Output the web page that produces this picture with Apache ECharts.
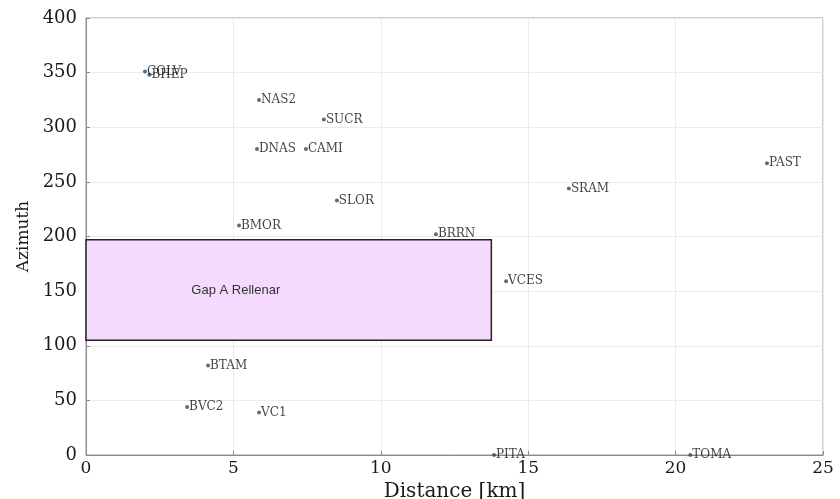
<!DOCTYPE html>
<html>
<head>
<meta charset="utf-8">
<script src="https://cdn.jsdelivr.net/npm/echarts@6/dist/echarts.min.js"></script>
<style>html,body{margin:0;padding:0;background:#fff;}#c{width:840px;height:499px;}</style>
</head>
<body>
<div id="c"></div>
<script>
const stations = ['COLV','BHEP','NAS2','SUCR','DNAS','CAMI','SLOR','BMOR','BRRN','SRAM','PAST','VCES','BTAM','BVC2','VC1','PITA','TOMA'];
const distances = [2.0, 2.15, 5.87, 8.07, 5.8, 7.46, 8.51, 5.19, 11.87, 16.38, 23.1, 14.25, 4.14, 3.43, 5.87, 13.84, 20.5];
const azimuths = [351, 348, 325, 307, 280, 280, 233, 210, 202, 244, 267, 159, 82, 44, 39, 0, 0];
const gapX = [0, 13.75];
const gapY = [105, 197];
const gapLabel = 'Gap A Rellenar';
const xTicks = [0, 5, 10, 15, 20, 25];
const yTicks = [0, 50, 100, 150, 200, 250, 300, 350, 400];

const chart = echarts.init(document.getElementById('c'));
const pts = stations.map((n, i) => ({ name: n, value: [distances[i], azimuths[i]] }));
const serif = 'DejaVu Serif';
chart.setOption({
  animation: false,
  backgroundColor: '#fff',
  grid: { left: 86, right: 17, top: 18, bottom: 44, outerBoundsMode: 'none', containLabel: false,
          show: true, borderColor: '#9a9a9a', borderWidth: 1 },
  xAxis: {
    type: 'value', min: xTicks[0], max: xTicks[xTicks.length - 1], interval: 5,
    name: 'Distance [km]', nameLocation: 'middle', nameGap: 21,
    nameTextStyle: { fontFamily: serif, fontSize: 20, color: '#1a1a1a' },
    axisLine: { show: true, lineStyle: { color: '#8a8a8a' } },
    axisTick: { show: true, inside: true, length: 4, lineStyle: { color: '#8a8a8a' } },
    axisLabel: { fontFamily: serif, fontSize: 17, color: '#1a1a1a', margin: 5 },
    splitLine: { show: true, lineStyle: { color: '#ebebeb' } }
  },
  yAxis: {
    type: 'value', min: yTicks[0], max: yTicks[yTicks.length - 1], interval: 50,
    name: 'Azimuth', nameLocation: 'middle', nameGap: 54,
    nameTextStyle: { fontFamily: serif, fontSize: 17, color: '#1a1a1a' },
    axisLine: { show: true, lineStyle: { color: '#8a8a8a' } },
    axisTick: { show: true, inside: true, length: 4, lineStyle: { color: '#8a8a8a' } },
    axisLabel: { fontFamily: serif, fontSize: 18, color: '#1a1a1a', margin: 9 },
    splitLine: { show: true, lineStyle: { color: '#ebebeb' } }
  },
  series: [{
    type: 'scatter',
    data: pts,
    symbolSize: 4,
    itemStyle: { color: '#1f4f6e' },
    z: 5,
    label: {
      show: true, position: 'right', distance: 0,
      formatter: p => p.name,
      fontFamily: serif, fontSize: 12, color: '#111'
    },
    markArea: {
      silent: true,
      itemStyle: { color: '#f4dafc', borderColor: '#222', borderWidth: 1.5 },
      label: {
        show: true, position: ['37%', '50%'], align: 'center', verticalAlign: 'middle',
        fontFamily: 'Liberation Sans', fontSize: 13, color: '#333'
      },
      data: [[
        { name: gapLabel, coord: [gapX[0], gapY[1]] },
        { coord: [gapX[1], gapY[0]] }
      ]]
    }
  }]
});
</script>
</body>
</html>
